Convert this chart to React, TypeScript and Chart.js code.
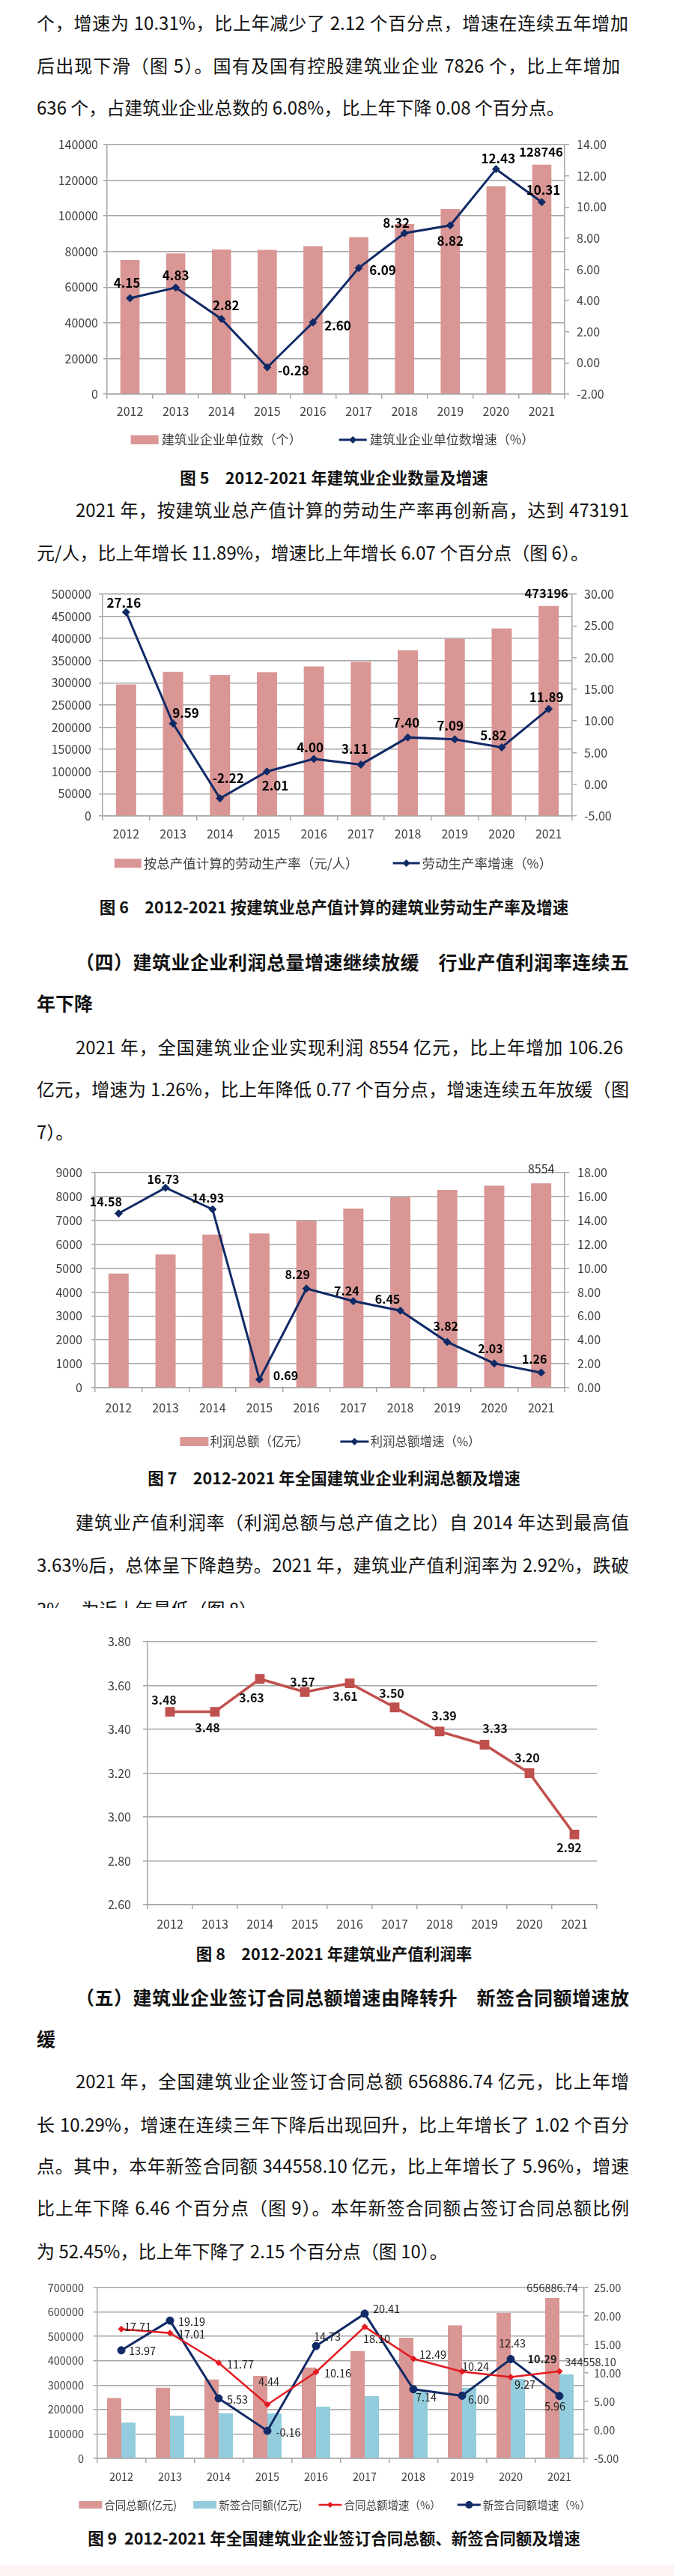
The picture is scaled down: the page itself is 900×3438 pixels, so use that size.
import React, { useEffect, useRef } from "react";
import { Chart, registerables } from "chart.js";

Chart.register(...registerables);

const FONT = '"Noto Sans CJK SC", "Noto Sans", sans-serif';
Chart.defaults.font.family = FONT;
Chart.defaults.color = "#404040";

if (typeof document !== "undefined") {
  document.body.style.margin = "0";
  document.body.style.background = "#ffffff";
}

// ---------------- data ----------------
const years = ["2012", "2013", "2014", "2015", "2016", "2017", "2018", "2019", "2020", "2021"];

// Fig 5
const enterpriseCount = [75280, 78919, 81141, 80911, 83017, 88074, 95400, 103814, 116716, 128746];
const enterpriseGrowth = [4.15, 4.83, 2.82, -0.28, 2.6, 6.09, 8.32, 8.82, 12.43, 10.31];
const fig5LeftRange = [0, 140000, 20000];
const fig5RightRange = [-2, 14, 2];

// Fig 6
const laborProductivity = [296400, 324900, 317700, 324000, 337000, 347500, 373200, 399700, 422900, 473196];
const productivityGrowth = [27.16, 9.59, -2.22, 2.01, 4.0, 3.11, 7.4, 7.09, 5.82, 11.89];
const fig6LeftRange = [0, 500000, 50000];
const fig6RightRange = [-5, 30, 5];

// Fig 7
const profitTotal = [4777, 5575, 6407, 6452, 6986, 7492, 7975, 8280, 8448, 8554];
const profitGrowth = [14.58, 16.73, 14.93, 0.69, 8.29, 7.24, 6.45, 3.82, 2.03, 1.26];
const fig7LeftRange = [0, 9000, 1000];
const fig7RightRange = [0, 18, 2];

// Fig 8
const profitMargin = [3.48, 3.48, 3.63, 3.57, 3.61, 3.5, 3.39, 3.33, 3.2, 2.92];
const fig8Range = [2.6, 3.8, 0.2];

// Fig 9
const contractTotal = [247400, 289400, 323500, 337900, 372200, 439500, 494400, 545100, 595600, 656886.74];
const newContract = [146800, 175000, 184600, 184300, 211500, 254700, 272900, 289200, 325200, 344558.1];
const contractGrowth = [17.71, 17.01, 11.77, 4.44, 10.16, 18.1, 12.49, 10.24, 9.27, 10.29];
const newContractGrowth = [13.97, 19.19, 5.53, -0.16, 14.73, 20.41, 7.14, 6.0, 12.43, 5.96];
const fig9LeftRange = [0, 700000, 100000];
const fig9RightRange = [-5, 25, 5];

// ---------------- label placement (offsets from the mark, px) ----------------
const fig5GrowthOffsets = [[-4, -20], [0, -16], [6, -18], [35, 4], [33, 4], [32, 3], [-11, -14], [0, 21], [3, -14], [2, -16]];
const fig5BarOffsets = [null, null, null, null, null, null, null, null, null, [-1, -17]];
const fig6GrowthOffsets = [[-3, -12], [17, -14], [11, -27], [11, 19], [-5, -15], [-8, -21], [-2, -20], [-6, -18], [-11, -16], [-3, -16]];
const fig6BarOffsets = [null, null, null, null, null, null, null, null, null, [-3, -17]];
const fig7GrowthOffsets = [[-17, -16], [-3, -11], [-6, -15], [35, -5], [-12, -19], [-9, -14], [-17, -15], [-2, -21], [-5, -20], [-9, -18]];
const fig7BarOffsets = [null, null, null, null, null, null, null, null, null, [0, -19]];
const fig8Offsets = [[-8, -16], [-10, 21], [-11, 25], [-3, -13], [-6, 17], [-4, -19], [6, -21], [14, -22], [-3, -21], [-7, 18]];
const fig9RedOffsets = [[22, -3], [29, 2], [29, 2], [2, -31], [29, 2], [16, 16], [26, -6], [18, -7], [19, 10], [-23, -16]];
const fig9NavyOffsets = [[28, 1], [29, 1], [25, 2], [28, 2], [15, -13], [29, -6], [17, 11], [22, 5], [2, -21], [-6, 14]];
const fig9PinkOffsets = [null, null, null, null, null, null, null, null, null, [0, -14]];
const fig9BlueOffsets = [null, null, null, null, null, null, null, null, null, [32, -16]];

// ---------------- styles ----------------
const PINK = "#D99694";
const BLUE = "#93CDDD";
const NAVY = "#102A66";
const RED = "#E41B22";
const BRICK = "#C0504D";
const GRID = "#a6a6a6";

type LabelSet = {
  dataset: number;
  offsets: (number[] | null)[];
  size: number;
  bold?: boolean;
  boldIdx?: number[];
  color?: string;
  decimals?: number;
};

function makeLabelPlugin(sets: LabelSet[]) {
  return {
    id: "valueLabels",
    afterDatasetsDraw(chart: any) {
      const ctx = chart.ctx;
      for (const s of sets) {
        const meta = chart.getDatasetMeta(s.dataset);
        const data = chart.data.datasets[s.dataset].data as number[];
        meta.data.forEach((el: any, i: number) => {
          const off = s.offsets[i];
          if (!off) return;
          const v = data[i];
          const text = s.decimals !== undefined ? v.toFixed(s.decimals) : String(v);
          const bold = s.bold || (s.boldIdx && s.boldIdx.includes(i));
          ctx.save();
          ctx.font = `${bold ? "bold " : ""}${s.size}px ${FONT}`;
          ctx.fillStyle = s.color || "#000";
          ctx.textAlign = "center";
          ctx.textBaseline = "middle";
          const p = el.getProps(["x", "y"], true);
          ctx.fillText(text, p.x + off[0], p.y + off[1]);
          ctx.restore();
        });
      }
    },
  };
}

function drawMarker(ctx: CanvasRenderingContext2D, style: string, r: number, x: number, y: number, color: string) {
  ctx.fillStyle = color;
  ctx.beginPath();
  if (style === "circle") {
    ctx.arc(x, y, r, 0, Math.PI * 2);
  } else if (style === "rectRot") {
    ctx.moveTo(x, y - r);
    ctx.lineTo(x + r, y);
    ctx.lineTo(x, y + r);
    ctx.lineTo(x - r, y);
    ctx.closePath();
  } else {
    const h = r * Math.SQRT1_2;
    ctx.rect(x - h, y - h, 2 * h, 2 * h);
  }
  ctx.fill();
}

type LegendCfg = {
  items: { ds: number; kind: "box" | "line" }[];
  y: number;
  cx: number;
  size: number;
  sym: number;
  boxH: number;
  symGap: number;
  gap: number;
};

function makeLegendPlugin(cfg: LegendCfg) {
  return {
    id: "customLegend",
    afterDraw(chart: any) {
      const ctx: CanvasRenderingContext2D = chart.ctx;
      ctx.save();
      ctx.font = `${cfg.size}px ${FONT}`;
      const texts = cfg.items.map((it) => chart.data.datasets[it.ds].label as string);
      const widths = texts.map((t) => cfg.sym + cfg.symGap + ctx.measureText(t).width);
      const total = widths.reduce((a, b) => a + b, 0) + cfg.gap * (widths.length - 1);
      let x = cfg.cx - total / 2;
      const y = cfg.y;
      cfg.items.forEach((it, k) => {
        const ds = chart.data.datasets[it.ds];
        if (it.kind === "box") {
          ctx.fillStyle = ds.backgroundColor;
          ctx.fillRect(x, y - cfg.boxH / 2, cfg.sym, cfg.boxH);
        } else {
          ctx.strokeStyle = ds.borderColor;
          ctx.lineWidth = ds.borderWidth;
          ctx.beginPath();
          ctx.moveTo(x, y);
          ctx.lineTo(x + cfg.sym, y);
          ctx.stroke();
          drawMarker(ctx, ds.pointStyle, ds.pointRadius, x + cfg.sym / 2, y, ds.pointBackgroundColor);
        }
        ctx.fillStyle = "#404040";
        ctx.textAlign = "left";
        ctx.textBaseline = "middle";
        ctx.fillText(texts[k], x + cfg.sym + cfg.symGap, y);
        x += widths[k] + cfg.gap;
      });
      ctx.restore();
    },
  };
}

function xScale(height: number, size: number, pad: number) {
  return {
    type: "category",
    offset: true,
    grid: { display: true, drawOnChartArea: false, drawTicks: true, tickLength: 6, offset: true, color: GRID, lineWidth: 1.5 },
    border: { display: true, color: GRID, width: 1.5 },
    ticks: { font: { size }, padding: pad, maxRotation: 0, minRotation: 0, autoSkip: false, color: "#404040" },
    afterFit: (s: any) => {
      s.height = height;
    },
  };
}

function leftScale(range: number[], width: number, size: number, pad: number, decimals: number | null, tick = 5) {
  return {
    type: "linear",
    position: "left",
    min: range[0],
    max: range[1],
    ticks: {
      stepSize: range[2],
      font: { size },
      padding: pad,
      color: "#404040",
      callback: (v: any) => (decimals !== null ? Number(v).toFixed(decimals) : String(Math.round(Number(v)))),
    },
    grid: { color: GRID, lineWidth: 1.5, tickLength: tick, drawTicks: true },
    border: { display: true, color: GRID, width: 1.5 },
    afterFit: (s: any) => {
      s.width = width;
    },
  };
}

function rightScale(range: number[], width: number, size: number, pad: number) {
  return {
    type: "linear",
    position: "right",
    min: range[0],
    max: range[1],
    ticks: {
      stepSize: range[2],
      font: { size },
      padding: pad,
      color: "#404040",
      callback: (v: any) => Number(v).toFixed(2),
    },
    grid: { drawOnChartArea: false, drawTicks: true, tickLength: 6, color: GRID, lineWidth: 1.5 },
    border: { display: true, color: GRID, width: 1.5 },
    afterFit: (s: any) => {
      s.width = width;
    },
  };
}

function lineDataset(label: string, data: number[], color: string, width: number, style: string, radius: number) {
  return {
    type: "line",
    label,
    data,
    yAxisID: "y1",
    borderColor: color,
    borderWidth: width,
    pointStyle: style,
    pointRadius: radius,
    pointBackgroundColor: color,
    pointBorderColor: color,
    pointBorderWidth: 1,
    tension: 0,
    fill: false,
    order: 0,
  };
}

const baseOptions = {
  responsive: false,
  maintainAspectRatio: false,
  animation: false,
  events: [],
};

// ---------------- chart configs ----------------
function fig5Config() {
  return {
    type: "bar",
    data: {
      labels: years,
      datasets: [
        { label: "建筑业企业单位数（个）", data: enterpriseCount, backgroundColor: PINK, yAxisID: "y", categoryPercentage: 1, barPercentage: 0.42, order: 1 },
        lineDataset("建筑业企业单位数增速（%）", enterpriseGrowth, NAVY, 3, "rectRot", 5),
      ],
    },
    options: {
      ...baseOptions,
      layout: { padding: { top: 33, left: 0, right: 0, bottom: 0 } },
      plugins: { legend: { display: false }, tooltip: { enabled: false } },
      scales: {
        x: xScale(79, 16, 7.4),
        y: leftScale(fig5LeftRange, 143, 16, 7, null),
        y1: rightScale(fig5RightRange, 146, 16, 10),
      },
    },
    plugins: [
      makeLabelPlugin([
        { dataset: 1, offsets: fig5GrowthOffsets, size: 17, bold: true, color: "#000", decimals: 2 },
        { dataset: 0, offsets: fig5BarOffsets, size: 16.5, bold: true, color: "#000" },
      ]),
      makeLegendPlugin({ items: [{ ds: 0, kind: "box" }, { ds: 1, kind: "line" }], y: 427, cx: 444, size: 17, sym: 37, boxH: 12, symGap: 4, gap: 50 }),
    ],
  };
}

function fig6Config() {
  return {
    type: "bar",
    data: {
      labels: years,
      datasets: [
        { label: "按总产值计算的劳动生产率（元/人）", data: laborProductivity, backgroundColor: PINK, yAxisID: "y", categoryPercentage: 1, barPercentage: 0.43, order: 1 },
        lineDataset("劳动生产率增速（%）", productivityGrowth, NAVY, 3, "rectRot", 5),
      ],
    },
    options: {
      ...baseOptions,
      layout: { padding: { top: 23, left: 0, right: 0, bottom: 0 } },
      plugins: { legend: { display: false }, tooltip: { enabled: false } },
      scales: {
        x: xScale(81, 16, 8.4),
        y: leftScale(fig6LeftRange, 137, 16, 10, null),
        y1: rightScale(fig6RightRange, 136, 16, 10),
      },
    },
    plugins: [
      makeLabelPlugin([
        { dataset: 1, offsets: fig6GrowthOffsets, size: 17, bold: true, color: "#000", decimals: 2 },
        { dataset: 0, offsets: fig6BarOffsets, size: 16.5, bold: true, color: "#000" },
      ]),
      makeLegendPlugin({ items: [{ ds: 0, kind: "box" }, { ds: 1, kind: "line" }], y: 382, cx: 445, size: 17.5, sym: 36, boxH: 12, symGap: 3, gap: 46 }),
    ],
  };
}

function fig7Config() {
  return {
    type: "bar",
    data: {
      labels: years,
      datasets: [
        { label: "利润总额（亿元）", data: profitTotal, backgroundColor: PINK, yAxisID: "y", categoryPercentage: 1, barPercentage: 0.43, order: 1 },
        lineDataset("利润总额增速（%）", profitGrowth, NAVY, 3, "rectRot", 5),
      ],
    },
    options: {
      ...baseOptions,
      layout: { padding: { top: 25, left: 0, right: 0, bottom: 0 } },
      plugins: { legend: { display: false }, tooltip: { enabled: false } },
      scales: {
        x: xScale(93, 16, 11.4),
        y: leftScale(fig7LeftRange, 127, 16, 12, null),
        y1: rightScale(fig7RightRange, 146, 16, 11),
      },
    },
    plugins: [
      makeLabelPlugin([
        { dataset: 1, offsets: fig7GrowthOffsets, size: 16, bold: true, color: "#000", decimals: 2 },
        { dataset: 0, offsets: fig7BarOffsets, size: 16, bold: false, color: "#333" },
      ]),
      makeLegendPlugin({ items: [{ ds: 0, kind: "box" }, { ds: 1, kind: "line" }], y: 384, cx: 441, size: 16.5, sym: 38, boxH: 12, symGap: 2, gap: 42 }),
    ],
  };
}

function fig8Config() {
  return {
    type: "line",
    data: {
      labels: years,
      datasets: [
        {
          label: "建筑业产值利润率（%）",
          data: profitMargin,
          borderColor: BRICK,
          borderWidth: 3.5,
          pointStyle: "rect",
          pointRadius: 6.6,
          pointBackgroundColor: BRICK,
          pointBorderColor: BRICK,
          tension: 0,
          fill: false,
        },
      ],
    },
    options: {
      ...baseOptions,
      layout: { padding: { top: 26, left: 0, right: 103, bottom: 0 } },
      plugins: { legend: { display: false }, tooltip: { enabled: false } },
      scales: {
        x: xScale(48, 16, 10.4),
        y: leftScale(fig8Range, 197, 16, 16, 2, 6),
      },
    },
    plugins: [makeLabelPlugin([{ dataset: 0, offsets: fig8Offsets, size: 16, bold: true, color: "#111", decimals: 2 }])],
  };
}

function fig9Config() {
  return {
    type: "bar",
    data: {
      labels: years,
      datasets: [
        { label: "合同总额(亿元)", data: contractTotal, backgroundColor: PINK, yAxisID: "y", categoryPercentage: 0.585, barPercentage: 1, order: 2 },
        { label: "新签合同额(亿元)", data: newContract, backgroundColor: BLUE, yAxisID: "y", categoryPercentage: 0.585, barPercentage: 1, order: 2 },
        lineDataset("合同总额增速（%）", contractGrowth, RED, 2.5, "rectRot", 4),
        lineDataset("新签合同额增速（%）", newContractGrowth, NAVY, 3, "circle", 5),
      ],
    },
    options: {
      ...baseOptions,
      layout: { padding: { top: 23, left: 0, right: 0, bottom: 0 } },
      plugins: { legend: { display: false }, tooltip: { enabled: false } },
      scales: {
        x: xScale(84, 14.5, 9.3),
        y: leftScale(fig9LeftRange, 129.5, 14.5, 12.5, null),
        y1: rightScale(fig9RightRange, 120.5, 14.5, 7.5),
      },
    },
    plugins: [
      makeLabelPlugin([
        { dataset: 2, offsets: fig9RedOffsets, size: 14.5, boldIdx: [9], color: "#222", decimals: 2 },
        { dataset: 3, offsets: fig9NavyOffsets, size: 14.5, color: "#222", decimals: 2 },
        { dataset: 0, offsets: fig9PinkOffsets, size: 14.5, color: "#333", decimals: 2 },
        { dataset: 1, offsets: fig9BlueOffsets, size: 14.5, color: "#333", decimals: 2 },
      ]),
      makeLegendPlugin({
        items: [{ ds: 0, kind: "box" }, { ds: 1, kind: "box" }, { ds: 2, kind: "line" }, { ds: 3, kind: "line" }],
        y: 313,
        cx: 447,
        size: 14.5,
        sym: 31,
        boxH: 10,
        symGap: 3,
        gap: 22,
      }),
    ],
  };
}

// ---------------- components ----------------
function ChartCanvas({ top, height, make }: { top: number; height: number; make: () => any }) {
  const ref = useRef<HTMLCanvasElement | null>(null);
  useEffect(() => {
    if (!ref.current) return;
    const chart = new Chart(ref.current, make());
    return () => chart.destroy();
  }, []);
  return (
    <canvas
      ref={ref}
      width={900}
      height={height}
      style={{ position: "absolute", left: 0, top, width: 900, height, display: "block" }}
    />
  );
}

type Line = { y: number; x: number; end?: number; text: string; bold?: boolean; size?: number };

const BODY = 24;
const lines: Line[] = [
  { y: 30, x: 49, end: 839, text: "个，增速为 10.31%，比上年减少了 2.12 个百分点，增速在连续五年增加" },
  { y: 87, x: 49, end: 828, text: "后出现下滑（图 5）。国有及国有控股建筑业企业 7826 个，比上年增加" },
  { y: 143, x: 49, text: "636 个，占建筑业企业总数的 6.08%，比上年下降 0.08 个百分点。" },
  { y: 680, x: 101, end: 840, text: "2021 年，按建筑业总产值计算的劳动生产率再创新高，达到 473191" },
  { y: 737, x: 49, text: "元/人，比上年增长 11.89%，增速比上年增长 6.07 个百分点（图 6）。" },
  { y: 1283, x: 101, end: 840, text: "（四）建筑业企业利润总量增速继续放缓\u3000行业产值利润率连续五", bold: true, size: 25 },
  { y: 1338, x: 49, text: "年下降", bold: true, size: 25 },
  { y: 1397, x: 101, end: 832, text: "2021 年，全国建筑业企业实现利润 8554 亿元，比上年增加 106.26" },
  { y: 1453, x: 49, end: 840, text: "亿元，增速为 1.26%，比上年降低 0.77 个百分点，增速连续五年放缓（图" },
  { y: 1510, x: 49, text: "7）。" },
  { y: 2031, x: 101, end: 840, text: "建筑业产值利润率（利润总额与总产值之比）自 2014 年达到最高值" },
  { y: 2088, x: 49, end: 840, text: "3.63%后，总体呈下降趋势。2021 年，建筑业产值利润率为 2.92%，跌破" },
  { y: 2665, x: 101, end: 840, text: "（五）建筑业企业签订合同总额增速由降转升\u3000新签合同额增速放", bold: true, size: 25 },
  { y: 2720, x: 49, text: "缓", bold: true, size: 25 },
  { y: 2777, x: 101, end: 840, text: "2021 年，全国建筑业企业签订合同总额 656886.74 亿元，比上年增" },
  { y: 2835, x: 49, end: 840, text: "长 10.29%，增速在连续三年下降后出现回升，比上年增长了 1.02 个百分" },
  { y: 2890, x: 49, end: 840, text: "点。其中，本年新签合同额 344558.10 亿元，比上年增长了 5.96%，增速" },
  { y: 2946, x: 49, end: 840, text: "比上年下降 6.46 个百分点（图 9）。本年新签合同额占签订合同总额比例" },
  { y: 3004, x: 49, text: "为 52.45%，比上年下降了 2.15 个百分点（图 10）。" },
];

const captions = [
  { y: 637, text: "图 5\u30002012-2021 年建筑业企业数量及增速" },
  { y: 1210, text: "图 6\u30002012-2021 按建筑业总产值计算的建筑业劳动生产率及增速" },
  { y: 1972, text: "图 7\u30002012-2021 年全国建筑业企业利润总额及增速" },
  { y: 2607, text: "图 8\u30002012-2021 年建筑业产值利润率" },
  { y: 3387, text: "图 9  2012-2021 年全国建筑业企业签订合同总额、新签合同额及增速" },
];

function TextLine({ l }: { l: Line }) {
  const size = l.size || BODY;
  const style: React.CSSProperties = {
    position: "absolute",
    left: l.x,
    top: l.y - 20,
    height: 40,
    lineHeight: "40px",
    fontSize: size,
    fontWeight: l.bold ? 700 : 400,
    whiteSpace: "nowrap",
    color: "#111",
  };
  if (l.end) {
    style.width = l.end - l.x;
    style.textAlign = "justify";
    (style as any).textAlignLast = "justify";
  }
  return <div style={style}>{l.text}</div>;
}

export default function App() {
  return (
    <div
      style={{
        position: "relative",
        width: 900,
        height: 3438,
        overflow: "hidden",
        background: "#ffffff",
        fontFamily: FONT,
      }}
    >
      {lines.map((l, i) => (
        <TextLine key={i} l={l} />
      ))}
      <div style={{ position: "absolute", left: 0, top: 2120, width: 900, height: 26, overflow: "hidden" }}>
        <div
          style={{
            position: "absolute",
            left: 49,
            top: 7,
            height: 40,
            lineHeight: "40px",
            fontSize: BODY,
            whiteSpace: "nowrap",
            color: "#111",
          }}
        >
          3%，为近十年最低（图 8）。
        </div>
      </div>
      {captions.map((c, i) => (
        <div
          key={"c" + i}
          style={{
            position: "absolute",
            left: 0,
            width: 892,
            top: c.y - 18,
            height: 36,
            lineHeight: "36px",
            textAlign: "center",
            fontSize: 21.5,
            fontWeight: 700,
            color: "#111",
            whiteSpace: "pre",
          }}
        >
          {c.text}
        </div>
      ))}
      <ChartCanvas top={160} height={445} make={fig5Config} />
      <ChartCanvas top={770} height={400} make={fig6Config} />
      <ChartCanvas top={1540} height={405} make={fig7Config} />
      <ChartCanvas top={2165} height={425} make={fig8Config} />
      <ChartCanvas top={3030} height={335} make={fig9Config} />
      <div style={{ position: "absolute", left: 0, top: 3423, width: 900, height: 15, background: "#fbf4f2" }} />
    </div>
  );
}
